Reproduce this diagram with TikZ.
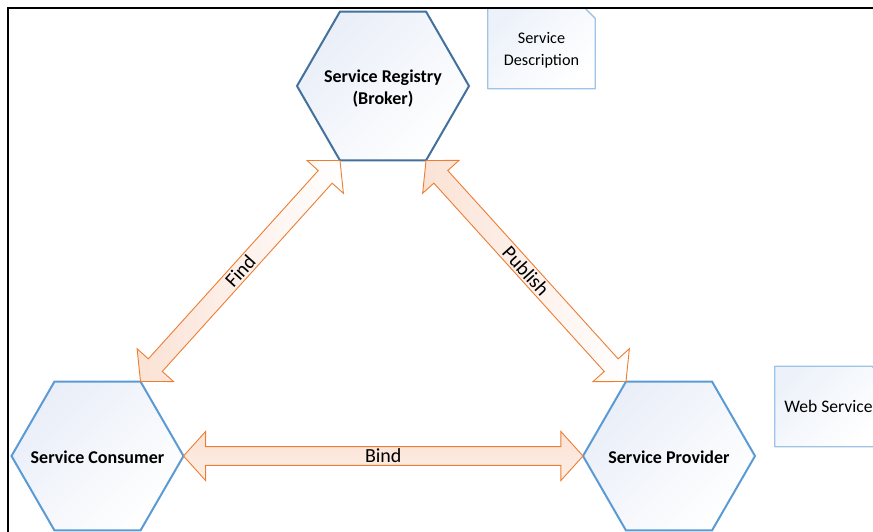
\documentclass[tikz,border=0pt]{standalone}
\usepackage{fontspec}
\setmainfont{Carlito}
\usetikzlibrary{shapes.geometric,shapes.arrows,calc,backgrounds}

\definecolor{hexdark}{HTML}{41719C}
\definecolor{hexlight}{HTML}{5B9BD5}
\definecolor{hexfill}{HTML}{E9EEF8}
\definecolor{noteline}{HTML}{9DC3E6}
\definecolor{notefill}{HTML}{EDF2FA}
\definecolor{arrowline}{HTML}{ED7D31}
\definecolor{arrowfill}{HTML}{FBE2D5}

\begin{document}
\begin{tikzpicture}[x=1pt,y=-1pt,
  hexnode/.style={regular polygon, regular polygon sides=6, minimum size=172pt,
    inner sep=0pt, outer sep=0pt, line width=2pt,
    top color=hexfill, bottom color=white, shading angle=45},
  hextext/.style={align=center, inner sep=0pt, font=\fontsize{18}{22}\selectfont\bfseries},
  notenode/.style={rectangle, minimum width=107pt, minimum height=80pt,
    inner sep=0pt, align=center, font=\fontsize{16.2}{22}\selectfont},
  noteborder/.style={draw=noteline, line width=1.3pt, line join=round,
    top color=notefill, bottom color=white, shading angle=45},
  flowarrow/.style={double arrow, double arrow head extend=12pt,
    double arrow tip angle=96, minimum width=49pt, inner sep=0pt, outer sep=0pt,
    draw=arrowline, line width=0.9pt, line join=miter,
    font=\fontsize{20}{22}\selectfont},
  fadearrow/.style={flowarrow, left color=arrowfill, right color=white},
  bindarrow/.style={flowarrow, top color=arrowfill, bottom color=arrowfill!60!white}
]
\useasboundingbox (0,0) rectangle (873,531);

% frame lines
\draw[line width=2pt] (8,540) -- (8,8) -- (880,8);

% the three roles
\node[hexnode, draw=hexdark,
  label={[hextext, yshift=-2.5pt]center:Service Registry\\(Broker)}] (reg) at (383,86) {};
\node[hexnode, draw=hexlight,
  label={[hextext, yshift=-1pt]center:Service Consumer}] (con) at (97.5,456) {};
\node[hexnode, draw=hexlight,
  label={[hextext, yshift=-1pt]center:Service Provider}] (pro) at (669,456) {};

% note boxes with a clipped corner
\node[notenode, text depth=-2pt] (desc) at (541.5,48.5) {Service\\Description};
\node[notenode, font=\fontsize{17.6}{22}\selectfont] (ws) at (828.5,406.5) {Web Service};
\begin{scope}[on background layer]
  \foreach \b in {desc,ws} {
    \draw[noteborder] (\b.south west) -- (\b.north west)
      -- ($(\b.north east)+(-10,0)$) -- ($(\b.north east)+(0,10)$)
      -- (\b.south east) -- cycle;
  }
\end{scope}

% interactions
\path let \p1=(con.60), \p2=(reg.240),
  \n1={atan2(\y2-\y1,\x2-\x1)}, \n2={veclen(\x2-\x1,\y2-\y1)} in
  node[fadearrow, rotate=\n1, minimum height=\n2] (find)
    at ($(con.60)!0.5!(reg.240)$) {Find};
\path let \p1=(reg.300), \p2=(pro.120),
  \n1={atan2(\y2-\y1,\x2-\x1)}, \n2={veclen(\x2-\x1,\y2-\y1)} in
  node[fadearrow, rotate=\n1, minimum height=\n2] (publish)
    at ($(reg.300)!0.5!(pro.120)$) {Publish};
\path let \p1=(con.0), \p2=(pro.180),
  \n2={veclen(\x2-\x1,\y2-\y1)} in
  node[bindarrow, minimum height=\n2] (bind)
    at ($(con.0)!0.5!(pro.180)$) {Bind};
\end{tikzpicture}
\end{document}
